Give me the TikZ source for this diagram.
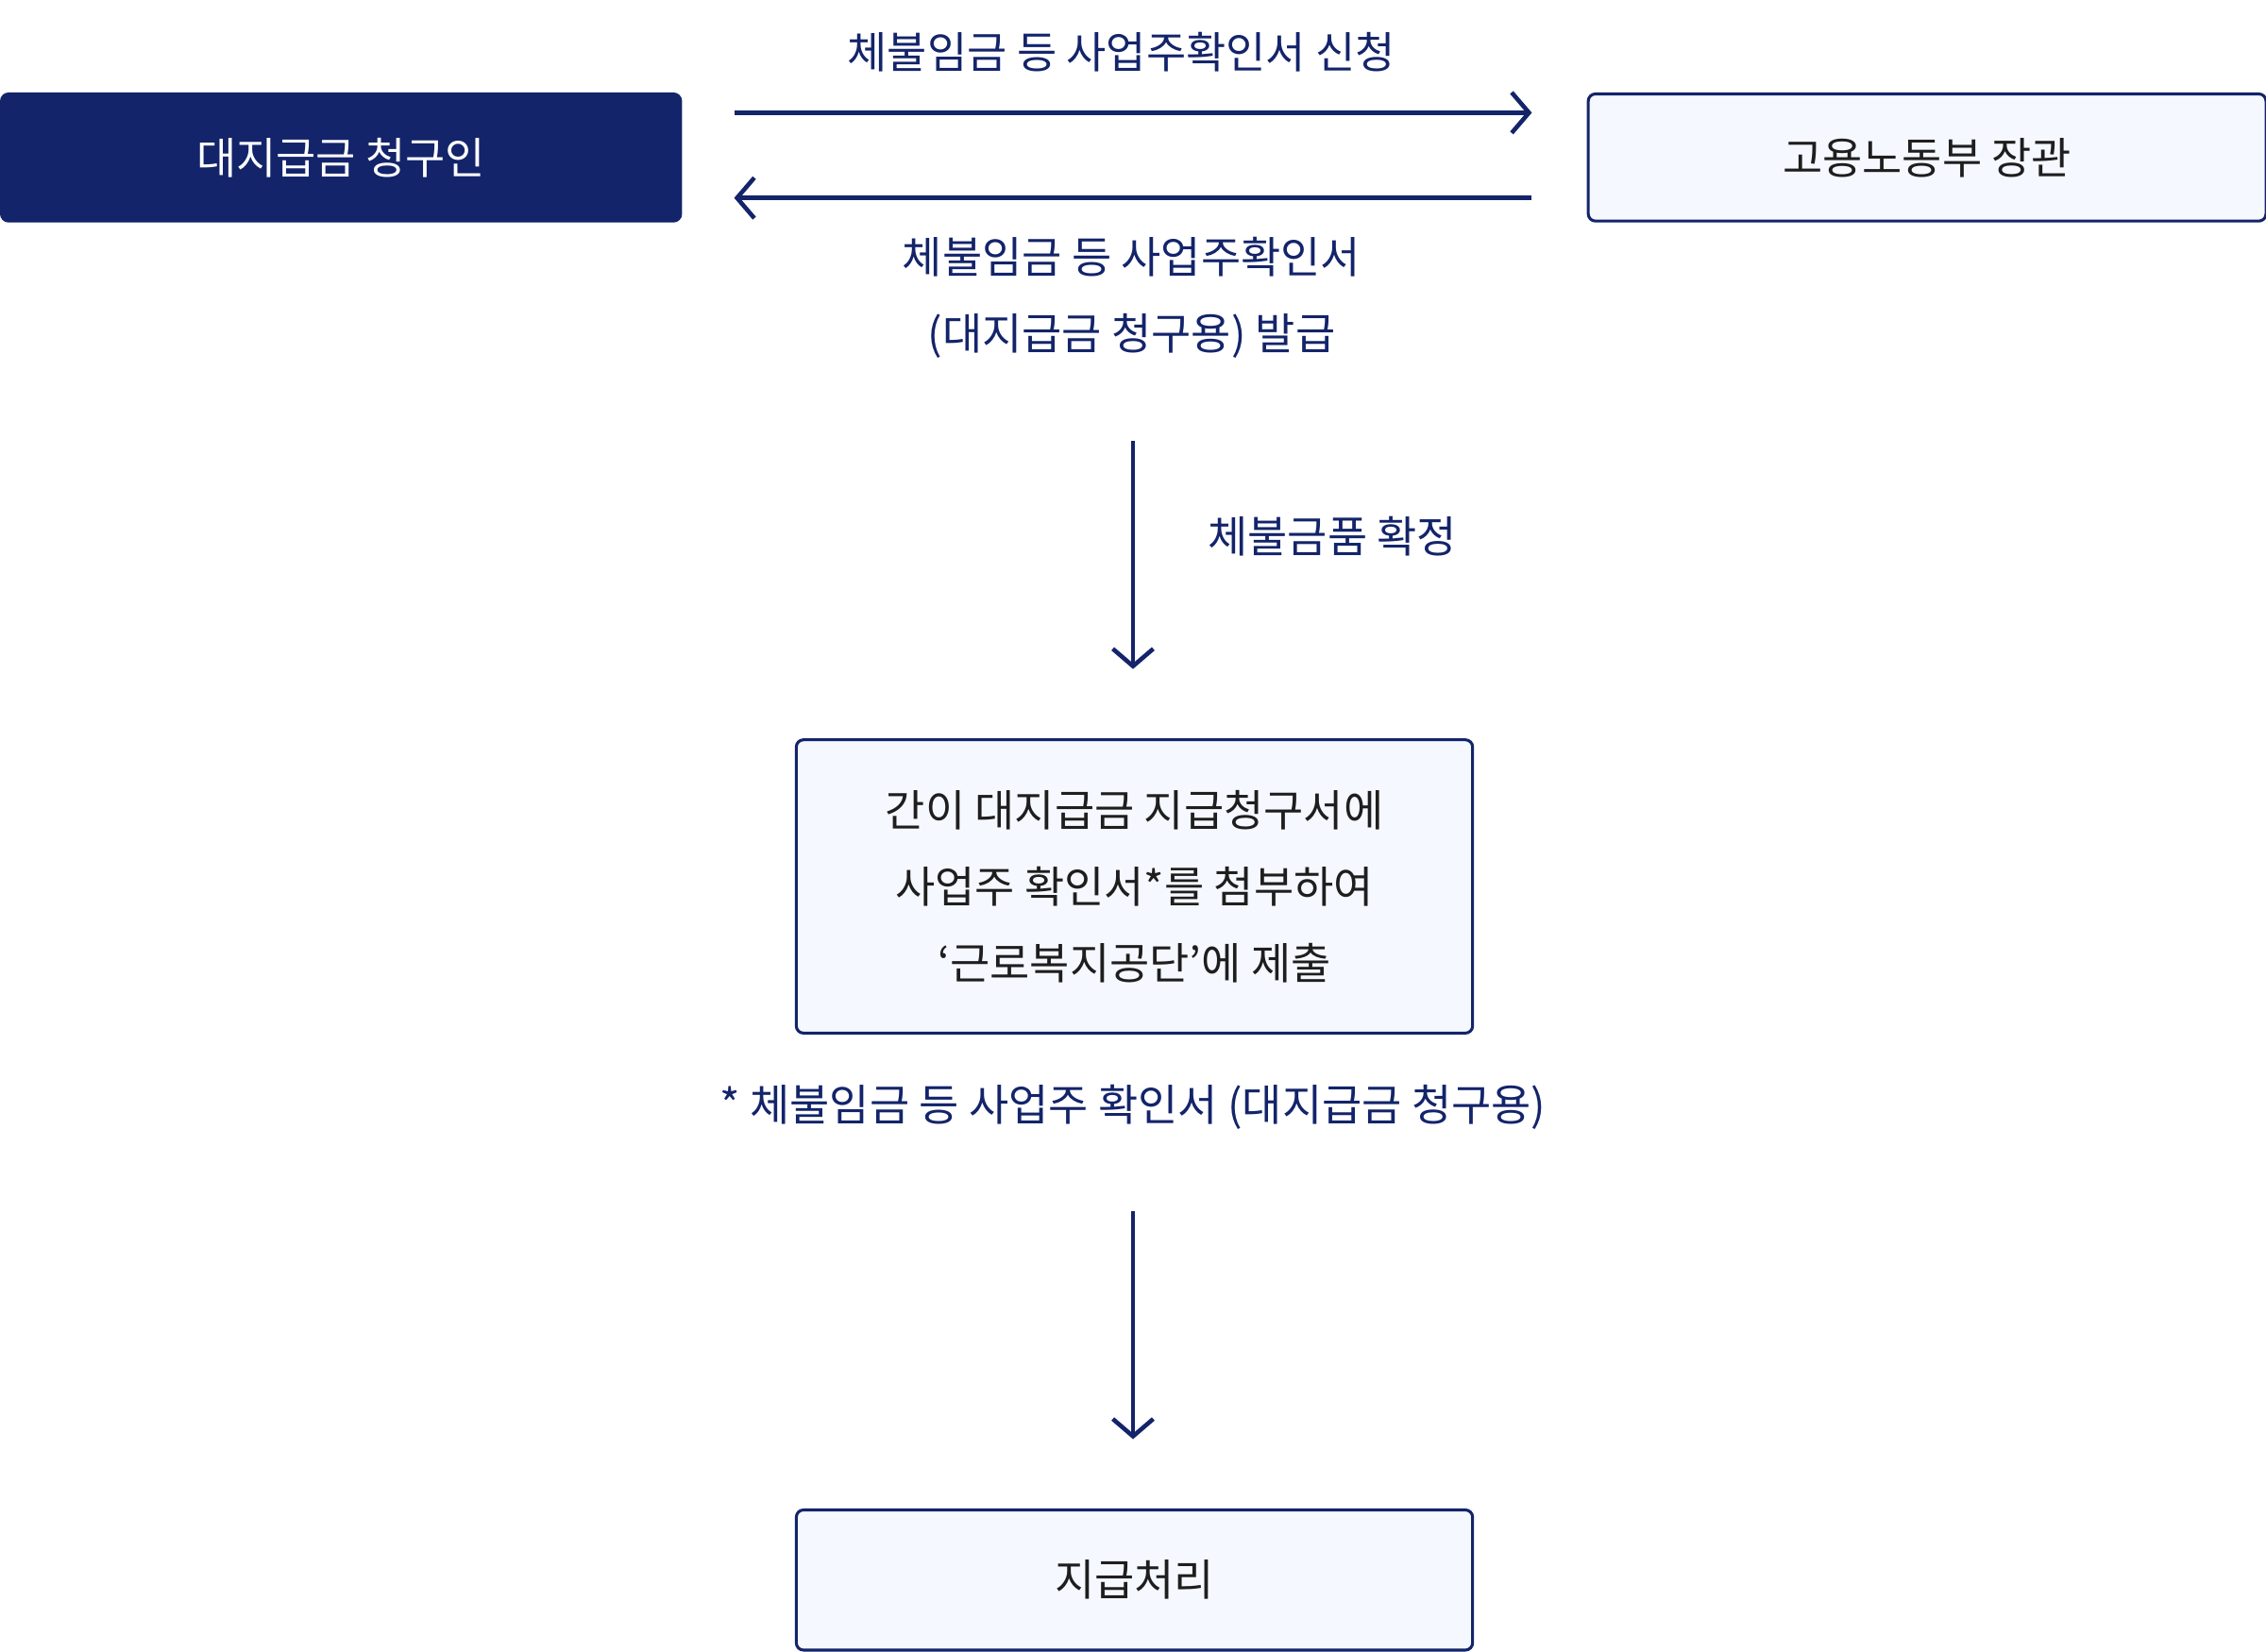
\documentclass[tikz,border=0pt]{standalone}
\usepackage{fontspec}
\setmainfont{Noto Sans CJK KR}
\usetikzlibrary{arrows.meta}
\definecolor{navy}{HTML}{13246A}
\definecolor{pale}{HTML}{F5F8FE}
\definecolor{ink}{HTML}{1E1E1E}
\begin{document}
\begin{tikzpicture}[x=1pt,y=-1pt,
  box/.style={draw=navy,line width=2pt,fill=pale,rounded corners=5pt,text=ink,font=\fontsize{30}{53}\selectfont,align=center,anchor=north west},
  lbl/.style={text=navy,font=\fontsize{30}{53}\selectfont,align=center},
  arr/.style={navy,line width=3pt,-{Straight Barb[length=12pt,width=28pt,line width=3pt]}}]
\useasboundingbox (0,0) rectangle (1568,1143);
\node[box,draw=navy,fill=navy,text=white,minimum width=470pt,minimum height=88pt] (a) at (0,64) {대지급금 청구인};
\node[box,minimum width=469pt,minimum height=88pt] (b) at (1098,64) {고용노동부 장관};
\coordinate (r1) at (508,78); \coordinate (r2) at (1060,78);
\coordinate (l1) at (1060,137); \coordinate (l2) at (508,137);
\draw[arr] (r1) -- (r2);
\draw[arr] (l1) -- (l2);
\node[lbl] (t1) at (776,36) {체불임금 등 사업주확인서 신청};
\node[lbl] (t2) at (783,206) {체불임금 등 사업주확인서\\(대지급금 청구용) 발급};
\coordinate (v1) at (784,305); \coordinate (v2) at (784,463);
\draw[arr] (v1) -- (v2);
\node[lbl] (t3) at (922,371) {체불금품 확정};
\node[box,minimum width=468pt,minimum height=203pt] (c) at (550,511) {간이 대지급금 지급청구서에\\사업주 확인서*를 첨부하여\\‘근로복지공단’에 제출};
\node[lbl] (t4) at (784,766) {* 체불임금 등 사업주 확인서 (대지급금 청구용)};
\coordinate (w1) at (784,838); \coordinate (w2) at (784,996);
\draw[arr] (w1) -- (w2);
\node[box,minimum width=468pt,minimum height=97pt] (d) at (550,1044) {지급처리};
\end{tikzpicture}
\end{document}
